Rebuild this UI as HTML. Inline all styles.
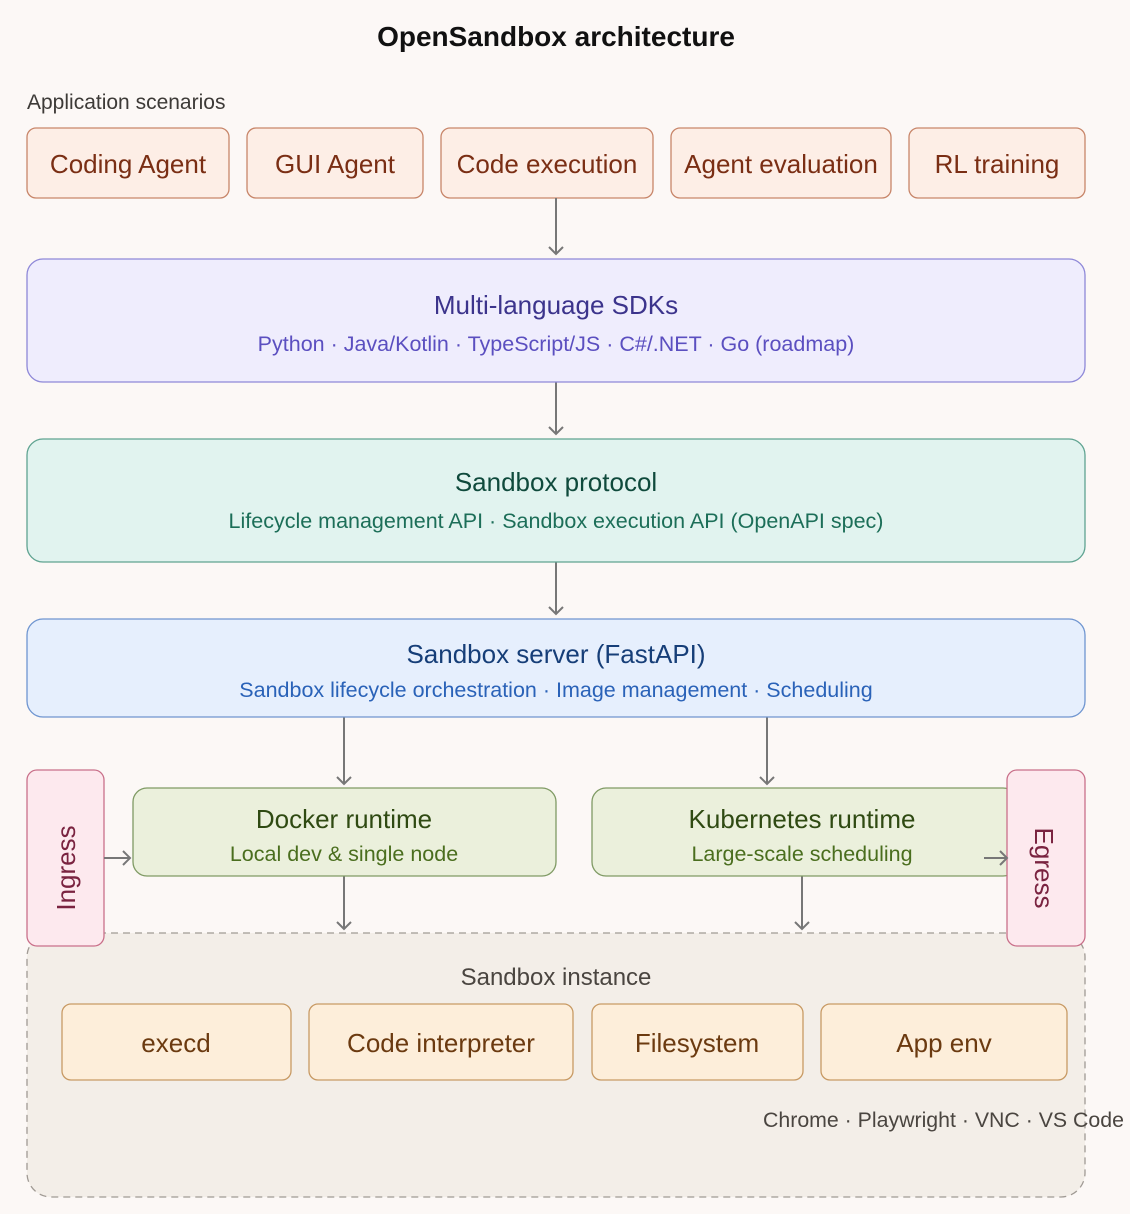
<!DOCTYPE html>
<html><head><meta charset="utf-8"><style>
html,body{margin:0;padding:0;background:#fcf8f6;}
svg{display:block;font-family:"Liberation Sans",sans-serif;}
</style></head><body>
<svg width="1130" height="1214" viewBox="0 0 1130 1214" xmlns="http://www.w3.org/2000/svg">
<defs><marker id="a" markerWidth="16" markerHeight="16" refX="8" refY="8" orient="auto" markerUnits="userSpaceOnUse"><path d="M1,1 L8,8 L1,15" fill="none" stroke="#777" stroke-width="2"/></marker></defs>
<rect width="1130" height="1214" fill="#fcf8f6"/>
<text x="556" y="46" text-anchor="middle" font-size="28" font-weight="bold" fill="#111">OpenSandbox architecture</text>
<text x="27" y="109" font-size="21" fill="#3d3a37">Application scenarios</text>
<g fill="#fdeee6" stroke="#c8866a" stroke-width="1.3">
<rect x="27" y="128" width="202" height="70" rx="9"/><rect x="247" y="128" width="176" height="70" rx="9"/><rect x="441" y="128" width="212" height="70" rx="9"/><rect x="671" y="128" width="220" height="70" rx="9"/><rect x="909" y="128" width="176" height="70" rx="9"/></g>
<g font-size="26" fill="#7a2e14" text-anchor="middle">
<text x="128" y="173">Coding Agent</text><text x="335" y="173">GUI Agent</text><text x="547" y="173">Code execution</text><text x="781" y="173">Agent evaluation</text><text x="997" y="173">RL training</text></g>
<g stroke="#777" stroke-width="2" marker-end="url(#a)">
<line x1="556" y1="198" x2="556" y2="254"/><line x1="556" y1="382" x2="556" y2="434"/><line x1="556" y1="562" x2="556" y2="614"/>
<line x1="344" y1="717" x2="344" y2="784"/><line x1="767" y1="717" x2="767" y2="784"/>
<line x1="344" y1="876" x2="344" y2="929"/><line x1="802" y1="876" x2="802" y2="929"/></g>
<rect x="27" y="259" width="1058" height="123" rx="16" fill="#efedfd" stroke="#8e88d8" stroke-width="1.3"/>
<text x="556" y="314" text-anchor="middle" font-size="26" fill="#3c348c">Multi-language SDKs</text>
<text x="556" y="351" text-anchor="middle" font-size="21.5" fill="#5b4fc0">Python · Java/Kotlin · TypeScript/JS · C#/.NET · Go (roadmap)</text>
<rect x="27" y="439" width="1058" height="123" rx="16" fill="#e1f3ef" stroke="#5fa391" stroke-width="1.3"/>
<text x="556" y="491" text-anchor="middle" font-size="26" fill="#0f4a3c">Sandbox protocol</text>
<text x="556" y="528" text-anchor="middle" font-size="21.5" fill="#1c6e58">Lifecycle management API · Sandbox execution API (OpenAPI spec)</text>
<rect x="27" y="619" width="1058" height="98" rx="16" fill="#e6effd" stroke="#6f95d0" stroke-width="1.3"/>
<text x="556" y="663" text-anchor="middle" font-size="26" fill="#163e78">Sandbox server (FastAPI)</text>
<text x="556" y="697" text-anchor="middle" font-size="21.5" fill="#2a62b8">Sandbox lifecycle orchestration · Image management · Scheduling</text>
<rect x="27" y="933" width="1058" height="264" rx="24" fill="#f3eee8" stroke="#a09a94" stroke-width="1.3" stroke-dasharray="7,5"/>
<rect x="133" y="788" width="423" height="88" rx="14" fill="#ebf0dc" stroke="#7f9a64" stroke-width="1.3"/>
<text x="344" y="828" text-anchor="middle" font-size="26" fill="#2f4a12">Docker runtime</text>
<text x="344" y="861" text-anchor="middle" font-size="21.5" fill="#4a6e1e">Local dev &amp; single node</text>
<rect x="592" y="788" width="425" height="88" rx="14" fill="#ebf0dc" stroke="#7f9a64" stroke-width="1.3"/>
<text x="802" y="828" text-anchor="middle" font-size="26" fill="#2f4a12">Kubernetes runtime</text>
<text x="802" y="861" text-anchor="middle" font-size="21.5" fill="#4a6e1e">Large-scale scheduling</text>
<rect x="27" y="770" width="77" height="176" rx="10" fill="#fde9ee" stroke="#c9708a" stroke-width="1.3"/>
<text transform="translate(75,868) rotate(-90)" text-anchor="middle" font-size="26" fill="#7a2340">Ingress</text>
<rect x="1007" y="770" width="78" height="176" rx="10" fill="#fde9ee" stroke="#c9708a" stroke-width="1.3"/>
<text transform="translate(1035,868) rotate(90)" text-anchor="middle" font-size="26" fill="#7a2340">Egress</text>
<g stroke="#777" stroke-width="2" marker-end="url(#a)">
<line x1="104" y1="858" x2="130" y2="858"/><line x1="984" y1="858" x2="1007" y2="858"/></g>
<text x="556" y="985" text-anchor="middle" font-size="24" fill="#4a4540">Sandbox instance</text>
<g fill="#fdeeda" stroke="#c89a64" stroke-width="1.3">
<rect x="62" y="1004" width="229" height="76" rx="9"/><rect x="309" y="1004" width="264" height="76" rx="9"/><rect x="592" y="1004" width="211" height="76" rx="9"/><rect x="821" y="1004" width="246" height="76" rx="9"/></g>
<g font-size="26" fill="#6b3a10" text-anchor="middle">
<text x="176" y="1052">execd</text><text x="441" y="1052">Code interpreter</text><text x="697" y="1052">Filesystem</text><text x="944" y="1052">App env</text></g>
<text x="763" y="1127" font-size="21.3" fill="#4a4540">Chrome · Playwright · VNC · VS Code</text>
</svg>
</body></html>
